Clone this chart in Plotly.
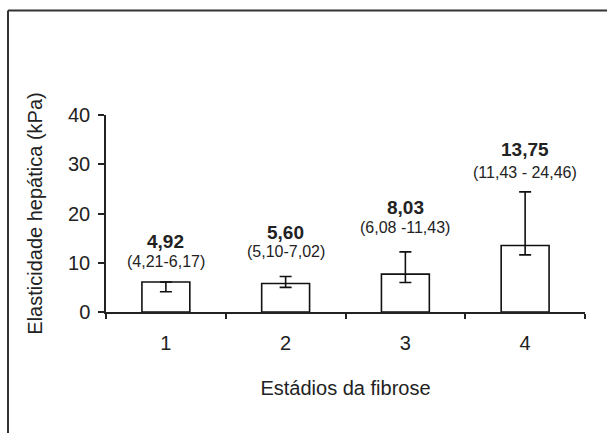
import plotly.graph_objects as go

categories = ["1", "2", "3", "4"]
bar_values = [6.1, 5.8, 7.7, 13.5]
err_low = [4.1, 5.0, 6.0, 11.6]
err_high = [6.1, 7.2, 12.2, 24.4]
median_labels = ["4,92", "5,60", "8,03", "13,75"]
range_labels = ["(4,21-6,17)", "(5,10-7,02)", "(6,08 -11,43)", "(11,43 - 24,46)"]
y_ticks = [0, 10, 20, 30, 40]

FONT = "Liberation Sans, Arial, sans-serif"
INK = "#222222"

fig = go.Figure()
fig.add_trace(go.Bar(
    x=categories,
    y=bar_values,
    width=0.4,
    marker=dict(color="white", line=dict(color="#111111", width=1.6)),
    error_y=dict(
        type="data",
        symmetric=False,
        array=[h - v for h, v in zip(err_high, bar_values)],
        arrayminus=[v - l for v, l in zip(bar_values, err_low)],
        color="#111111",
        thickness=1.6,
        width=6,
    ),
    showlegend=False,
))

# label placement (layout)
bold_y = [14.4, 16.2, 21.3, 32.9]
sub_y = [10.2, 12.2, 17.1, 28.4]
for i, (m, r, by, sy) in enumerate(zip(median_labels, range_labels, bold_y, sub_y)):
    fig.add_annotation(x=i, y=by, text="<b>" + m + "</b>", showarrow=False,
                       font=dict(family="Liberation Sans Narrow, " + FONT, size=19, color=INK),
                       xanchor="center", yanchor="middle")
    fig.add_annotation(x=i, y=sy, text=r, showarrow=False,
                       font=dict(family=FONT, size=16, color=INK),
                       xanchor="center", yanchor="middle")

fig.update_layout(
    width=607, height=433,
    margin=dict(l=106, r=22, t=115, b=121, autoexpand=False),
    paper_bgcolor="white",
    plot_bgcolor="white",
    font=dict(family=FONT, size=20, color=INK),
    xaxis=dict(
        type="category",
        range=[-0.5, 3.5],
        showline=True, linecolor="#222222", linewidth=1.5,
        ticks="outside", tickson="boundaries", ticklen=5, tickcolor="#222222", tickwidth=1.5,
        ticklabelstandoff=12,
        showgrid=False, zeroline=False,
        tickfont=dict(family=FONT, size=20, color=INK),
        title=dict(text="Estádios da fibrose", font=dict(family=FONT, size=20, color=INK), standoff=28),
    ),
    yaxis=dict(
        range=[0, 40],
        tickvals=y_ticks,
        showline=True, linecolor="#222222", linewidth=1.5,
        ticks="outside", ticklen=6, tickcolor="#222222", tickwidth=1.5,
        ticklabelstandoff=4,
        showgrid=False, zeroline=False,
        tickfont=dict(family=FONT, size=20, color=INK),
        title=dict(text="Elasticidade hepática (kPa)", font=dict(family=FONT, size=20, color=INK), standoff=20),
    ),
)

# outer frame: top line and left line (cropped box)
fig.add_shape(type="line", xref="paper", yref="paper",
              x0=-98/479, x1=1 + 22/479, y0=1 + 104.5/197, y1=1 + 104.5/197,
              line=dict(color="#333333", width=2))
fig.add_shape(type="line", xref="paper", yref="paper",
              x0=-98/479, x1=-98/479, y0=1 + 104.5/197, y1=-121/197,
              line=dict(color="#333333", width=2))

fig.write_html("out.html", config={"displayModeBar": False},
               post_script="document.body.style.margin='0';")
